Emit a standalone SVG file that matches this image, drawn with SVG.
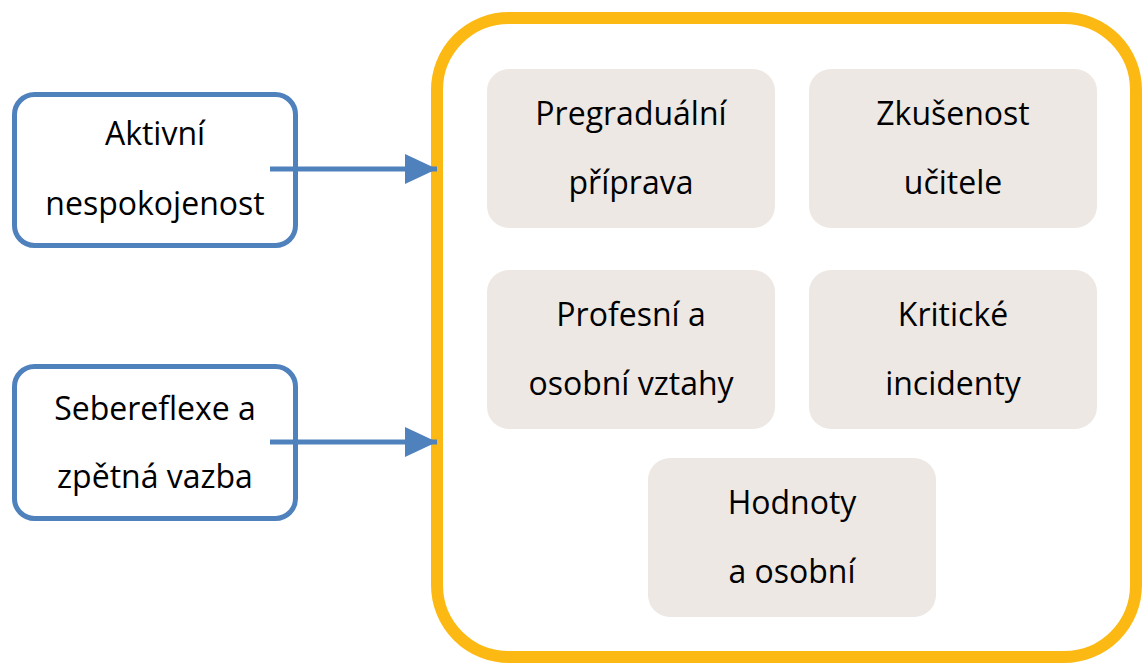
<svg xmlns="http://www.w3.org/2000/svg" width="1142" height="663" viewBox="0 0 1142 663">
<defs>
<style>
.src{fill:#fff;stroke:#4F81BD;stroke-width:5}
.frame{fill:#fff;stroke:#FDB913;stroke-width:12}
.item{fill:#EDE8E4}
.t{font-family:"Open Sans","Liberation Sans",sans-serif;font-size:32px;fill:#000;text-anchor:middle}
.c{stroke:#4F81BD;stroke-width:5;fill:none}
</style>
<marker id="ah" markerUnits="userSpaceOnUse" markerWidth="32" markerHeight="32" refX="32" refY="15" orient="auto" viewBox="0 0 32 30">
<path d="M0,0 L32,15 L0,30 Z" fill="#4F81BD"/>
</marker>
</defs>
<g id="frame"><rect class="frame" x="437" y="18" width="699" height="639" rx="72" ry="72"/></g>
<g id="n1"><rect class="src" x="14.5" y="94.5" width="281" height="151" rx="20"/><text class="t" x="155" y="145">Aktivní</text><text class="t" x="155" y="215">nespokojenost</text></g>
<g id="n2"><rect class="src" x="14.5" y="366.5" width="281" height="152" rx="20"/><text class="t" x="155" y="420">Sebereflexe a</text><text class="t" x="155" y="488">zpětná vazba</text></g>
<g id="b1"><rect class="item" x="487" y="69" width="288" height="159" rx="22"/><text class="t" x="631" y="125">Pregraduální</text><text class="t" x="631" y="194">příprava</text></g>
<g id="b2"><rect class="item" x="809" y="69" width="288" height="159" rx="22"/><text class="t" x="953" y="125">Zkušenost</text><text class="t" x="953" y="194">učitele</text></g>
<g id="b3"><rect class="item" x="487" y="270" width="288" height="159" rx="22"/><text class="t" x="631" y="326">Profesní a</text><text class="t" x="631" y="395">osobní vztahy</text></g>
<g id="b4"><rect class="item" x="809" y="270" width="288" height="159" rx="22"/><text class="t" x="953" y="326">Kritické</text><text class="t" x="953" y="395">incidenty</text></g>
<g id="b5"><rect class="item" x="648" y="458" width="288" height="159" rx="22"/><text class="t" x="792" y="514">Hodnoty</text><text class="t" x="792" y="583">a osobní</text></g>
<g id="connectors">
<line class="c" x1="270" y1="169" x2="437" y2="169" marker-end="url(#ah)"/>
<line class="c" x1="270" y1="442" x2="437" y2="442" marker-end="url(#ah)"/>
</g>
</svg>
